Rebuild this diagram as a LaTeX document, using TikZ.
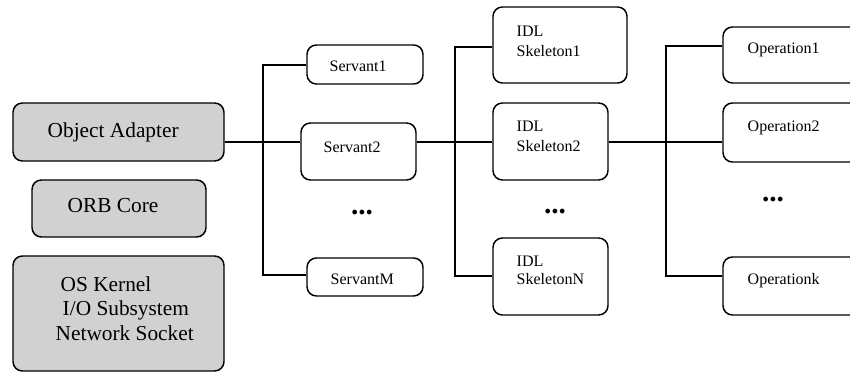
\documentclass[tikz,border=0pt]{standalone}
\usepackage{fontspec}
\setmainfont{Liberation Serif}
\begin{document}
\begin{tikzpicture}[x=0.75pt,y=-0.75pt,
  line width=1.1pt,
  box/.style 2 args={draw=black, rounded corners=7pt, minimum width=#1*0.75pt,
    minimum height=#2*0.75pt, inner sep=0pt},
  graybox/.style 2 args={box={#1}{#2}, fill=black!18},
  lbl/.style={anchor=base west, inner sep=0pt, font=\fontsize{12}{14}\selectfont},
  biglbl/.style={anchor=base west, inner sep=0pt, font=\fontsize{16}{19}\selectfont},
  more/.style={inner sep=0pt, font=\fontsize{22}{24}\selectfont\bfseries}]
\useasboundingbox (0,0) rectangle (850,373);
\clip (0,0) rectangle (850,373);

% ORB side
\node[graybox={211}{58}] (oa) at (118.5,132) {};
\node[graybox={174}{57}] (orb) at (119,208.5) {};
\node[graybox={211}{115}] (os) at (118.5,313.5) {};
\node[biglbl] (oat) at (47,138) {Object Adapter};
\node[biglbl] (orbt) at (67,213) {ORB Core};
\node[biglbl] (os1) at (60,292) {OS Kernel};
\node[biglbl] (os2) at (62,316) {I/O Subsystem};
\node[biglbl] (os3) at (55,341) {Network Socket};

% servants
\node[box={116}{39}] (s1) at (365,64.5) {};
\node[box={115}{57}] (s2) at (358.5,151.5) {};
\node[box={116}{38}] (sm) at (365,277) {};
\node[lbl] (s1t) at (329,72) {Servant1};
\node[lbl] (s2t) at (323,153) {Servant2};
\node[lbl] (smt) at (330,285) {ServantM};
\node[more] (sdots) at (362,213) {...};

% skeletons
\node[box={134}{76}] (k1) at (560,45) {};
\node[box={115}{77}] (k2) at (550.5,141.5) {};
\node[box={115}{77}] (kn) at (550.5,276.5) {};
\node[lbl] (k1a) at (516,37) {IDL};
\node[lbl] (k1b) at (516,57) {Skeleton1};
\node[lbl] (k2a) at (516,132) {IDL};
\node[lbl] (k2b) at (516,152) {Skeleton2};
\node[lbl] (kna) at (516,267) {IDL};
\node[lbl] (knb) at (516,285) {SkeletonN};
\node[more] (kdots) at (555,212) {...};

% operations
\node[box={147}{56}] (o1) at (796.5,55) {};
\node[box={147}{59}] (o2) at (796.5,132.5) {};
\node[box={147}{58}] (ok) at (796.5,286) {};
\node[lbl] (o1t) at (747,54) {Operation1};
\node[lbl] (o2t) at (747,132) {Operation2};
\node[lbl] (okt) at (747,285) {Operationk};
\node[more] (odots) at (773,200) {...};

% bus from the object adapter to the servants
\coordinate (b1t) at (263,65);
\coordinate (b1m) at (263,142);
\coordinate (b1b) at (263,275);
\draw (oa.east |- b1m) -- (s2.west |- b1m);
\draw (s1.west |- b1t) -- (b1t) -- (b1b) -- (sm.west |- b1b);

% bus from the servants to the skeletons
\coordinate (b2t) at (455,47);
\coordinate (b2m) at (455,142);
\coordinate (b2b) at (455,276);
\draw (s2.east |- b2m) -- (k2.west |- b2m);
\draw (k1.west |- b2t) -- (b2t) -- (b2b) -- (kn.west |- b2b);

% bus from the skeletons to the operations
\coordinate (b3t) at (666,46);
\coordinate (b3m) at (666,142);
\coordinate (b3b) at (666,276);
\draw (k2.east |- b3m) -- (o2.west |- b3m);
\draw (o1.west |- b3t) -- (b3t) -- (b3b) -- (ok.west |- b3b);
\end{tikzpicture}
\end{document}
